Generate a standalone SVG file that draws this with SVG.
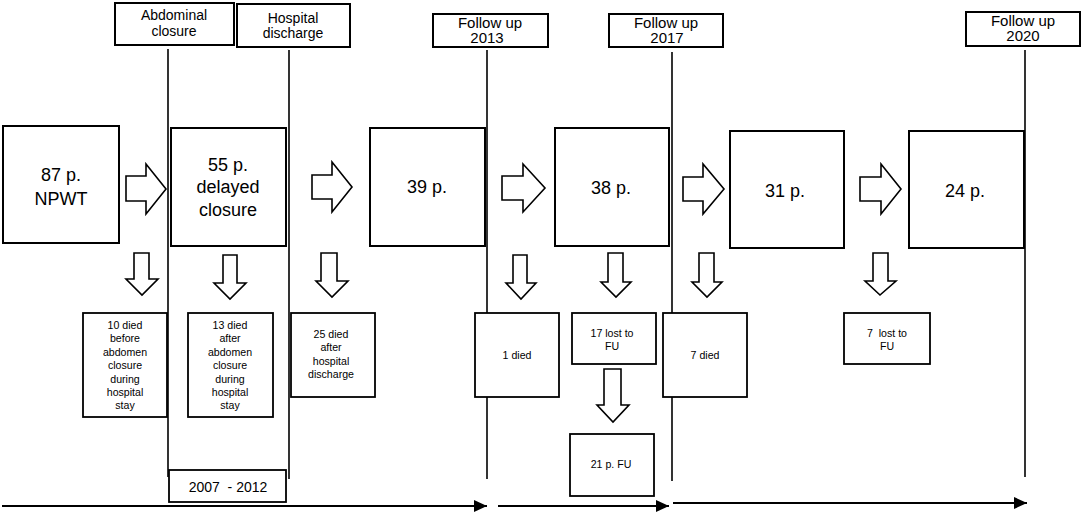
<svg xmlns="http://www.w3.org/2000/svg" width="1084" height="514" viewBox="0 0 1084 514">
<defs>
<style>
.bx{fill:#fff;stroke:#000;stroke-width:2}
.sb{fill:#fff;stroke:#000;stroke-width:1.8}
.ln{stroke:#000;stroke-width:1.6;fill:none}
.ar{fill:#fff;stroke:#000;stroke-width:1.6;stroke-linejoin:miter}
.tl{stroke:#000;stroke-width:2.2;fill:none}
text{font-family:"Liberation Sans",Arial,sans-serif;fill:#000;text-anchor:middle}
.t14{font-size:14px}
.t15{font-size:15px}
.t18{font-size:18px}
.t11{font-size:10.6px}
</style>
<marker id="ah" markerUnits="userSpaceOnUse" markerWidth="14" markerHeight="12" refX="13" refY="6" orient="auto">
<path d="M0,0 L13,6 L0,12 Z" fill="#000"/>
</marker>
</defs>

<g id="connectors">
<line class="ln" x1="168" y1="49" x2="168" y2="477"/>
<line class="ln" x1="289" y1="50" x2="289" y2="479"/>
<line class="ln" x1="487" y1="50" x2="487" y2="479"/>
<line class="ln" x1="672" y1="52" x2="672" y2="481"/>
<line class="ln" x1="1025" y1="50" x2="1025" y2="477"/>
<line class="tl" x1="2" y1="506" x2="487" y2="506" marker-end="url(#ah)"/>
<line class="tl" x1="498" y1="506" x2="669" y2="506" marker-end="url(#ah)"/>
<line class="tl" x1="673" y1="503" x2="1027" y2="503" marker-end="url(#ah)"/>
<polygon class="ar" points="126,176 146,176 146,164 166,189 146,214 146,201 126,201"/>
<polygon class="ar" points="312,175 332,175 332,162 352,187 332,212 332,199 312,199"/>
<polygon class="ar" points="502,176 523,176 523,164 545,188 523,212 523,200 502,200"/>
<polygon class="ar" points="683,177 703,177 703,164 724,189 703,214 703,201 683,201"/>
<polygon class="ar" points="860,177 881,177 881,164 901,189 881,214 881,201 860,201"/>
<polygon class="ar" points="134,253 149,253 149,279 158,279 142,295 126,279 134,279"/>
<polygon class="ar" points="223,255 237,255 237,283 246,283 230,299 214,283 223,283"/>
<polygon class="ar" points="321,253 337,253 337,281 348,281 332,297 316,281 321,281"/>
<polygon class="ar" points="513,255 527,255 527,283 536,283 521,299 506,283 513,283"/>
<polygon class="ar" points="608,253 623,253 623,282 631,282 616,297 601,282 608,282"/>
<polygon class="ar" points="604,369 621,369 621,405 629,405 613,422 597,405 604,405"/>
<polygon class="ar" points="699,253 714,253 714,282 722,282 707,297 692,282 699,282"/>
<polygon class="ar" points="873,253 888,253 888,281 896,281 880,295 865,281 873,281"/>
</g>

<g id="lbl-abdominal">
<rect class="bx" x="115" y="3" width="119" height="42"/>
<text class="t14" x="174" y="20">Abdominal</text>
<text class="t14" x="174" y="36">closure</text>
</g>
<g id="lbl-hospital">
<rect class="bx" x="237" y="4" width="113" height="43"/>
<text class="t14" x="293" y="23">Hospital</text>
<text class="t14" x="293" y="38">discharge</text>
</g>
<g id="lbl-fu2013">
<rect class="bx" x="433" y="14" width="115" height="33"/>
<text class="t15" x="490" y="28">Follow up</text>
<text class="t15" x="487" y="43">2013</text>
</g>
<g id="lbl-fu2017">
<rect class="bx" x="609" y="14" width="114" height="33"/>
<text class="t15" x="666" y="28">Follow up</text>
<text class="t15" x="667" y="43">2017</text>
</g>
<g id="lbl-fu2020">
<rect class="bx" x="966" y="12" width="114" height="34"/>
<text class="t15" x="1023" y="26">Follow up</text>
<text class="t15" x="1023" y="41">2020</text>
</g>

<g id="n87">
<rect class="bx" x="3" y="126" width="116" height="117"/>
<text class="t18" x="61" y="181">87 p.</text>
<text class="t18" x="61" y="205">NPWT</text>
</g>
<g id="n55">
<rect class="bx" x="171" y="128" width="115" height="118"/>
<text class="t18" x="228" y="171">55 p.</text>
<text class="t18" x="228" y="193">delayed</text>
<text class="t18" x="228" y="216">closure</text>
</g>
<g id="n39">
<rect class="bx" x="370" y="128" width="115" height="118"/>
<text class="t18" x="427" y="193">39 p.</text>
</g>
<g id="n38">
<rect class="bx" x="555" y="128" width="114" height="118"/>
<text class="t18" x="611" y="194">38 p.</text>
</g>
<g id="n31">
<rect class="bx" x="730" y="131" width="114" height="117"/>
<text class="t18" x="785" y="197">31 p.</text>
</g>
<g id="n24">
<rect class="bx" x="909" y="131" width="115" height="117"/>
<text class="t18" x="965" y="197">24 p.</text>
</g>

<g id="d10">
<rect class="sb" x="83" y="313" width="84" height="104"/>
<text class="t11" x="125" y="329">10 died</text>
<text class="t11" x="125" y="342">before</text>
<text class="t11" x="125" y="356">abdomen</text>
<text class="t11" x="125" y="369">closure</text>
<text class="t11" x="125" y="383">during</text>
<text class="t11" x="125" y="396">hospital</text>
<text class="t11" x="125" y="409">stay</text>
</g>
<g id="d13">
<rect class="sb" x="188" y="313" width="85" height="104"/>
<text class="t11" x="230" y="329">13 died</text>
<text class="t11" x="230" y="342">after</text>
<text class="t11" x="230" y="356">abdomen</text>
<text class="t11" x="230" y="369">closure</text>
<text class="t11" x="230" y="383">during</text>
<text class="t11" x="230" y="396">hospital</text>
<text class="t11" x="230" y="409">stay</text>
</g>
<g id="d25">
<rect class="sb" x="291" y="313" width="84" height="84"/>
<text class="t11" x="331" y="338">25 died</text>
<text class="t11" x="331" y="351">after</text>
<text class="t11" x="331" y="365">hospital</text>
<text class="t11" x="331" y="378">discharge</text>
</g>
<g id="d1">
<rect class="sb" x="475" y="313" width="84" height="84"/>
<text class="t11" x="517" y="359">1 died</text>
</g>
<g id="l17">
<rect class="sb" x="572" y="313" width="84" height="51"/>
<text class="t11" x="612" y="337">17 lost to</text>
<text class="t11" x="612" y="350">FU</text>
</g>
<g id="fu21">
<rect class="sb" x="570" y="434" width="84" height="62"/>
<text class="t11" x="611" y="468">21 p. FU</text>
</g>
<g id="d7">
<rect class="sb" x="663" y="313" width="84" height="84"/>
<text class="t11" x="705" y="359">7 died</text>
</g>
<g id="l7">
<rect class="sb" x="844" y="313" width="86" height="51"/>
<text class="t11" x="887" y="337" xml:space="preserve">7  lost to</text>
<text class="t11" x="887" y="350">FU</text>
</g>
<g id="period">
<rect class="sb" x="169" y="470" width="117" height="32"/>
<text class="t14" x="228" y="492" xml:space="preserve">2007  - 2012</text>
</g>
</svg>
